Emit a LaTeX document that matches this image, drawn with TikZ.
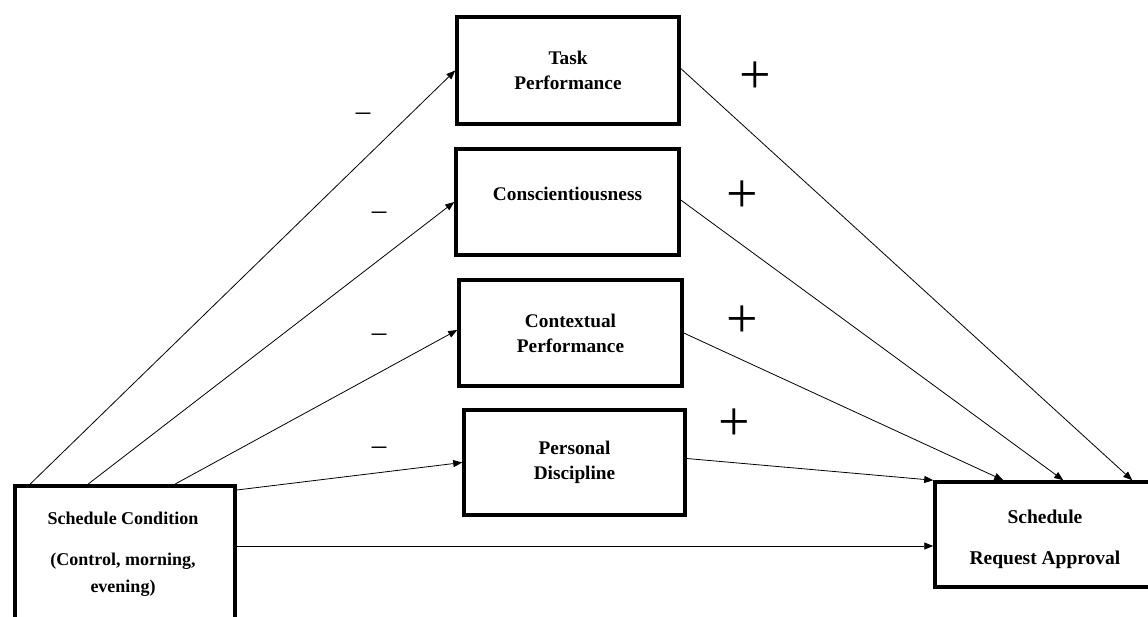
\documentclass[tikz,border=0pt]{standalone}
\usepackage{fontspec}
\setmainfont{Liberation Serif}
\usetikzlibrary{arrows.meta,calc}
\begin{document}
\begin{tikzpicture}[x=1pt,y=-1pt,
  box/.style={draw=black,line width=3.5pt,inner sep=0pt,align=center,
    font=\fontsize{19.3}{25}\selectfont\bfseries},
  lbl/.style={inner sep=0pt,align=center,font=\fontsize{18}{24}\selectfont\bfseries},
  arr/.style={draw=black,line width=0.8pt,-{Triangle[length=9pt,width=7pt]}},
  plus/.style={inner sep=0pt,font=\fontsize{56}{56}\selectfont},
  minus/.style={inner sep=0pt,font=\fontsize{29}{29}\selectfont}]
\useasboundingbox[fill=white] (0,0) rectangle (1148,617);

% mediator boxes
\node[box,minimum width=222pt,minimum height=107pt] (task) at (568,70.5) {Task\\Performance};
\node[box,minimum width=223pt,minimum height=106pt,text depth=16pt] (consc) at (567.5,202) {Conscientiousness};
\node[box,minimum width=223pt,minimum height=106pt] (context) at (570.5,333) {Contextual\\Performance};
\node[box,minimum width=221pt,minimum height=105pt] (personal) at (574.5,462.5) {Personal\\Discipline};

% schedule condition (cut off at the bottom)
\node[box,minimum width=220pt,minimum height=170pt,anchor=north] (sc) at (125,484) {};
\node[lbl] (sctext) at (123,554) {Schedule Condition\\[17pt](Control, morning,\\[3pt]evening)};

% schedule request approval (cut off at the right)
\node[box,minimum width=235pt,minimum height=105pt] (sra) at (1052.5,534.5) {};
\node[lbl,font=\fontsize{19.5}{24}\selectfont\bfseries] (sratext) at (1045,539) {Schedule\\[17pt]Request Approval};

% arrows from schedule condition
\draw[arr] ([xshift=17pt]sc.north west) -- (task.west);
\draw[arr] ([xshift=75pt]sc.north west) -- (consc.west);
\draw[arr] ([xshift=162pt]sc.north west) -- ([yshift=3pt]context.west);
\draw[arr] ([yshift=-6pt]sc.north east) -- (personal.west);
\draw[arr] ([yshift=-62pt]sc.north east) -- ([yshift=-62pt]sc.north east -| sra.west);

% arrows into schedule request approval
\draw[arr] ([yshift=2pt]task.east) -- ([xshift=199pt]sra.north west);
\draw[arr] ([yshift=2pt]consc.east) -- ([xshift=130pt]sra.north west);
\draw[arr] (context.east) -- ([xshift=70pt]sra.north west);
\draw[arr] ([yshift=4pt]personal.east) -- (sra.north west);

% signs
\node[minus] (m1) at (363,117) {–};
\node[minus] (m2) at (379,216) {–};
\node[minus] (m3) at (379,338) {–};
\node[minus] (m4) at (379,451) {–};
\node[plus] (p1) at (755,78) {+};
\node[plus] (p2) at (742,197) {+};
\node[plus] (p3) at (742,322) {+};
\node[plus] (p4) at (734,425) {+};
\end{tikzpicture}
\end{document}
